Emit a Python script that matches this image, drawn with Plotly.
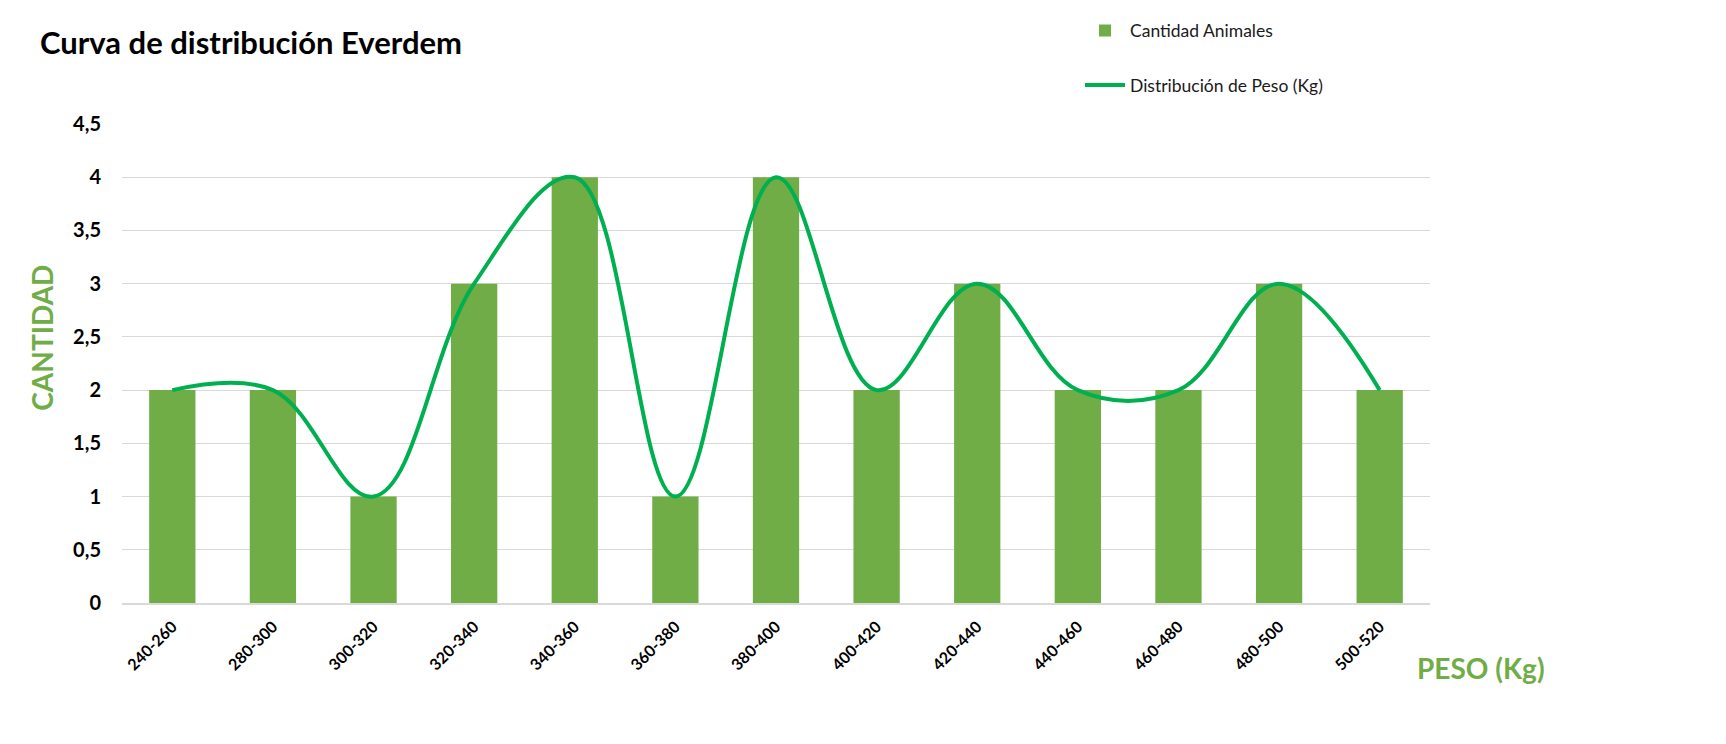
import plotly.graph_objects as go

categories = ["240-260", "280-300", "300-320", "320-340", "340-360", "360-380", "380-400",
              "400-420", "420-440", "440-460", "460-480", "480-500", "500-520"]
cantidad = [2, 2, 1, 3, 4, 1, 4, 2, 3, 2, 2, 3, 2]
distribucion = [2, 2, 1, 3, 4, 1, 4, 2, 3, 2, 2, 3, 2]
y_tickvals = [0, 0.5, 1, 1.5, 2, 2.5, 3, 3.5, 4, 4.5]
y_ticktext = ["0", "0,5", "1", "1,5", "2", "2,5", "3", "3,5", "4", "4,5"]

W, H = 1726, 744
L, R, T, B = 122, 296, 121, 141

FONT = "Lato"
GREEN_BAR = "#70AD47"
GREEN_LINE = "#00B050"

fig = go.Figure()
fig.add_trace(go.Bar(x=categories, y=cantidad, name="Cantidad Animales",
                     marker=dict(color=GREEN_BAR, line=dict(width=0)),
                     legend="legend"))
fig.add_trace(go.Scatter(x=categories, y=distribucion, name="Distribución de Peso (Kg)",
                         mode="lines", line=dict(color=GREEN_LINE, width=4, shape="spline", smoothing=1.1),
                         legend="legend2"))

pw = W - L - R
ph = H - T - B

def px_x(p):
    return (p - L) / pw

def px_y(p):
    return 1 - (p - T) / ph

fig.update_layout(
    width=W, height=H,
    margin=dict(l=L, r=R, t=T, b=B),
    paper_bgcolor="white", plot_bgcolor="white",
    bargap=0.54,
    font=dict(family=FONT, color="#000000"),
    title=dict(text="<b>Curva de distribución Everdem</b>", x=40 / W, xanchor="left",
               y=1 - 43 / H, yanchor="middle", xref="container", yref="container",
               font=dict(size=31, family=FONT, color="#000000")),
    showlegend=True,
    legend=dict(x=px_x(1080), y=px_y(27), xanchor="left", yanchor="middle",
                font=dict(size=17.5, family=FONT, color="#1a1a1a"), bgcolor="rgba(0,0,0,0)",
                itemwidth=40),
    legend2=dict(x=px_x(1080), y=px_y(82), xanchor="left", yanchor="middle",
                 font=dict(size=17.5, family=FONT, color="#1a1a1a"), bgcolor="rgba(0,0,0,0)",
                 itemwidth=40),
    xaxis=dict(type="category", tickangle=-45, showgrid=False,
               showline=True, linecolor="#D9D9D9", linewidth=2,
               ticks="", tickfont=dict(size=16, family=FONT, color="#000000", weight="bold"),
               ticklabelstandoff=6),
    yaxis=dict(range=[0, 4.5], tickvals=y_tickvals, ticktext=y_ticktext,
               showgrid=True, gridcolor="#D9D9D9", gridwidth=1,
               zeroline=False, showline=False, ticks="",
               tickfont=dict(size=20, family=FONT, color="#000000", weight="bold"),
               ticklabelstandoff=20),
    annotations=[
        dict(text="<b>CANTIDAD</b>", textangle=-90, xref="paper", yref="paper",
             x=px_x(42), y=px_y(336), xanchor="center", yanchor="middle", showarrow=False,
             font=dict(size=28, family=FONT, color=GREEN_BAR)),
        dict(text="<b>PESO (Kg)</b>", xref="paper", yref="paper",
             x=px_x(1481), y=px_y(668), xanchor="center", yanchor="middle", showarrow=False,
             font=dict(size=28, family=FONT, color=GREEN_BAR)),
    ],
)

fig.write_html("out.html")
